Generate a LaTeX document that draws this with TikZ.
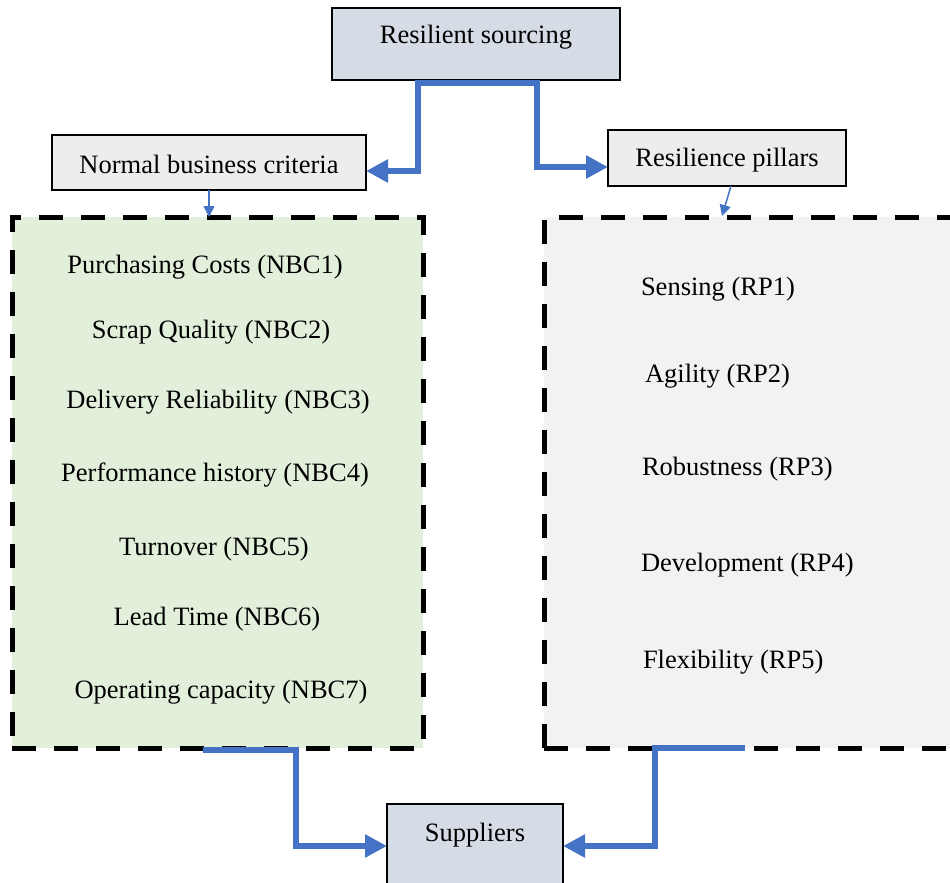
\documentclass[tikz,border=0pt]{standalone}
\usepackage{fontspec}
\setmainfont{Liberation Serif}
\usetikzlibrary{arrows.meta}
\definecolor{hdrfill}{HTML}{D6DCE5}
\definecolor{subfill}{HTML}{EDEDED}
\definecolor{greenfill}{HTML}{E2EFDA}
\definecolor{greyfill}{HTML}{F2F2F2}
\definecolor{linkblue}{HTML}{4472C4}
\begin{document}
\begin{tikzpicture}[x=1pt,y=-1pt,
  every node/.style={font=\fontsize{26.5}{32}\selectfont, inner sep=0pt, outer sep=0pt},
  txt/.style={yshift=-2pt},
  box/.style={draw=black, line width=1.3pt, rectangle},
  group/.style={draw=black, line width=5pt, dash pattern=on 24pt off 18pt, rectangle},
  bigarrow/.style={draw=linkblue, line width=6pt, line join=miter, -{Triangle[length=22pt,width=22pt]}},
  smallarrow/.style={draw=linkblue, line width=1.5pt, -{Triangle[length=11pt,width=11pt]}},
]
\clip (0,0) rectangle (950,883);
\fill[white] (0,0) rectangle (950,883);

% dashed groups
\node[group, fill=greenfill, minimum width=411pt, minimum height=531pt] (nbcbox) at (217.5,482.5) {};
\node[group, fill=greyfill, minimum width=426pt, minimum height=531pt] (rpbox) at (757,482.5) {};

% headline boxes
\node[box, fill=hdrfill, minimum width=288pt, minimum height=72pt] (rs) at (476,44) {};
\node[txt] at (476,35) {Resilient sourcing};
\node[box, fill=subfill, minimum width=314pt, minimum height=55pt] (nbc) at (209,162.5) {};
\node[txt] at (209,162) {Normal business criteria};
\node[box, fill=subfill, minimum width=238pt, minimum height=56pt] (rp) at (727,158) {};
\node[txt] at (727,158) {Resilience pillars};
\node[box, fill=hdrfill, minimum width=176pt, minimum height=84pt] (sup) at (475,846) {};
\node[txt] at (475,833) {Suppliers};

% criteria
\node[txt] at (205,265) {Purchasing Costs (NBC1)};
\node[txt] at (211,330) {Scrap Quality (NBC2)};
\node[txt] at (218,400) {Delivery Reliability (NBC3)};
\node[txt] at (215,473) {Performance history (NBC4)};
\node[txt] at (214,547) {Turnover (NBC5)};
\node[txt] at (217,617) {Lead Time (NBC6)};
\node[txt] at (221,690) {Operating capacity (NBC7)};

% pillars
\node[txt, anchor=west] at (641,287) {Sensing (RP1)};
\node[txt, anchor=west] at (645,374) {Agility (RP2)};
\node[txt, anchor=west] at (642,467) {Robustness (RP3)};
\node[txt, anchor=west] at (641,563) {Development (RP4)};
\node[txt, anchor=west] at (643,660) {Flexibility (RP5)};

% connectors
\coordinate (rsj) at ([yshift=-3pt]rs.south);
\draw[bigarrow] (rsj) -- (418,83) -- (418,171) -- ([yshift=-8.5pt]nbc.east);
\draw[bigarrow] (rsj) -- (537,83) -- (537,167) -- ([yshift=-9pt]rp.west);
\draw[smallarrow] (nbc.south) -- (nbc.south |- nbcbox.north);
\coordinate (rpin) at (722,216);
\draw[smallarrow] ([xshift=4pt]rp.south) -- (rpin);
\draw[bigarrow] ([xshift=-14.5pt,yshift=-2pt]nbcbox.south) -- (296,750) -- (296,846) -- (sup.west);
\draw[bigarrow] ([xshift=-12pt]rpbox.south) -- (655,748) -- (655,846) -- (sup.east);
\end{tikzpicture}
\end{document}
